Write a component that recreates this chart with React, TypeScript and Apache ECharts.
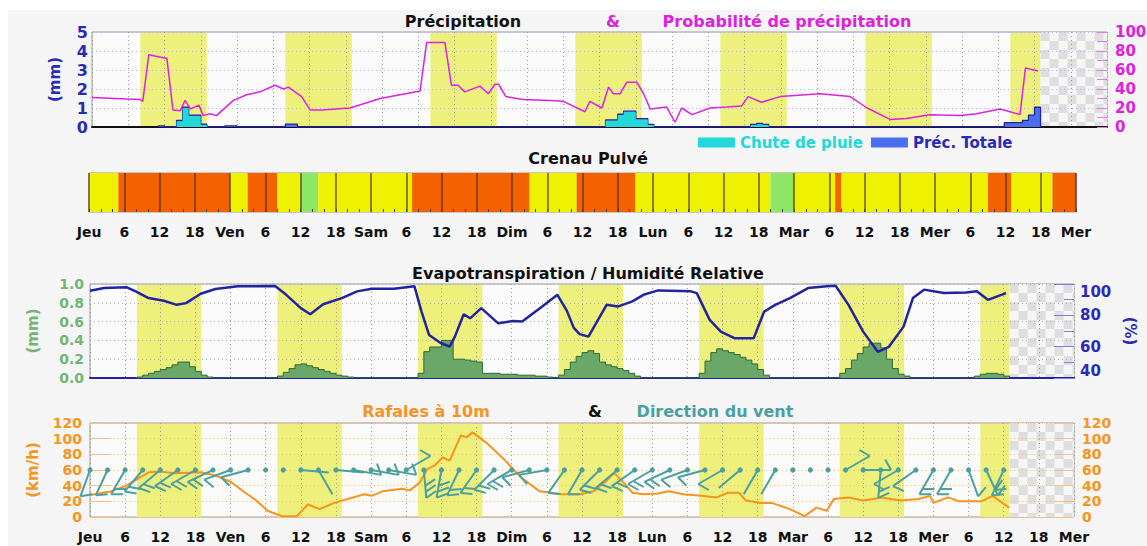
import React, { useEffect, useRef } from "react";
import * as echarts from "echarts";

// ---------- data ----------
const dayNames = ["Jeu", "Ven", "Sam", "Dim", "Lun", "Mar", "Mer", "Mer"];
const bandStart = [8, 32, 56, 80, 104, 128, 152];
const bandEnd = [19, 43, 67, 91, 115, 139, 157];
const forecastEnd = 157;
const axisEnd = 168;

// [hour, probability %]
const probPoints = [
  [0, 31], [7.9, 29], [8.4, 27], [9.4, 76], [12.4, 72], [13.4, 18], [14.6, 17], [15.4, 28], [16.3, 19],
  [17.7, 23], [18.4, 12], [19.5, 14], [20.6, 12], [23.4, 28], [25.6, 34], [27.8, 37], [30.3, 44], [31.7, 40],
  [32.5, 42], [34.7, 32], [36.1, 18], [38, 18], [42.7, 20], [47.7, 30], [51, 34], [54.3, 38], [55.4, 89],
  [58.4, 89], [59.5, 44], [60.6, 44], [61.7, 37], [64.2, 43], [65.6, 35], [66.7, 45], [67.3, 45], [68.5, 32],
  [71.4, 29], [75.8, 28], [78, 27], [81.6, 16], [82.4, 27], [84.4, 20], [85.5, 42], [86.3, 35], [87.4, 35],
  [88.5, 47], [90.2, 47], [91.3, 35], [92.4, 19], [95.1, 21], [96.5, 5], [97.6, 20], [99.3, 13], [102.3, 20],
  [105, 21], [107.5, 22], [108.6, 32], [110.8, 26], [113.9, 32], [120.5, 35], [125.5, 32], [128.3, 20],
  [132.1, 8], [134.8, 9], [138.7, 13], [143.7, 12], [146.4, 14], [150.3, 19], [153.6, 13], [154.5, 62], [156.6, 59],
];

// hourly bins: [hour, rain mm, total precipitation mm]
const precipBins = [
  [11, 0, 0.06], [14, 0.3, 0.35], [15, 1.0, 1.05], [16, 0.58, 0.63], [17, 0.58, 0.63], [18, 0.1, 0.15],
  [22, 0, 0.06], [23, 0, 0.06], [32, 0, 0.15], [33, 0, 0.15],
  [85, 0.33, 0.37], [86, 0.33, 0.37], [87, 0.63, 0.67], [88, 0.8, 0.84], [89, 0.8, 0.84], [90, 0.4, 0.44],
  [91, 0.4, 0.44], [92, 0.1, 0.14], [109, 0.1, 0.14], [110, 0.15, 0.19], [111, 0.1, 0.14],
  [151, 0, 0.23], [152, 0, 0.23], [153, 0, 0.23], [154, 0, 0.35], [155, 0, 0.63], [156, 0, 1.04],
];

// spraying window: start hour and level (0 favourable, 1 unfavourable, 2 optimal)
const crenauStart = [0, 5, 24, 27, 32, 36, 39, 55, 75, 83, 93, 116, 120, 127, 128, 153, 157, 164];
const crenauLevel = [0, 1, 0, 1, 0, 2, 0, 1, 0, 1, 0, 2, 0, 1, 0, 1, 0, 1];
const crenauColors = ["#eef200", "#f46200", "#8ee866"];

// hourly evapotranspiration [hour, mm]
const etBins = [
  [8, 0.01], [9, 0.03], [10, 0.05], [11, 0.07], [12, 0.09], [13, 0.11], [14, 0.14], [15, 0.17], [16, 0.17],
  [17, 0.12], [18, 0.07], [19, 0.03], [20, 0.01],
  [32, 0.02], [33, 0.06], [34, 0.1], [35, 0.14], [36, 0.15], [37, 0.13], [38, 0.11], [39, 0.09], [40, 0.07],
  [41, 0.05], [42, 0.03], [43, 0.02], [44, 0.01],
  [56, 0.05], [57, 0.28], [58, 0.33], [59, 0.33], [60, 0.4], [61, 0.4], [62, 0.2], [63, 0.2], [64, 0.19],
  [65, 0.18], [66, 0.17], [67, 0.05], [68, 0.05], [69, 0.05], [70, 0.04], [71, 0.04], [72, 0.04], [73, 0.03],
  [74, 0.03], [75, 0.03], [76, 0.02], [77, 0.02], [78, 0.01],
  [80, 0.03], [81, 0.09], [82, 0.17], [83, 0.23], [84, 0.27], [85, 0.29], [86, 0.26], [87, 0.17], [88, 0.14],
  [89, 0.12], [90, 0.1], [91, 0.08], [92, 0.05], [93, 0.02],
  [104, 0.05], [105, 0.18], [106, 0.27], [107, 0.31], [108, 0.29], [109, 0.27], [110, 0.25], [111, 0.22],
  [112, 0.19], [113, 0.15], [114, 0.09], [115, 0.03],
  [128, 0.05], [129, 0.1], [130, 0.19], [131, 0.26], [132, 0.33], [133, 0.37], [134, 0.37], [135, 0.32],
  [136, 0.2], [137, 0.1], [138, 0.04], [139, 0.02],
  [151, 0.02], [152, 0.04], [153, 0.05], [154, 0.05], [155, 0.04], [156, 0.02],
];

// relative humidity [hour, %]
const humPoints = [
  [0, 95.7], [2.4, 97.4], [6.2, 98], [7.8, 95.3], [10, 91], [12.6, 89.3], [14.8, 86.7], [16.4, 87.8],
  [18.9, 93.8], [21.4, 96.8], [25.2, 98.5], [31.6, 98.7], [33.5, 93.1], [36, 84.6], [37.6, 80.7], [39.8, 87.1],
  [43, 91], [45.6, 95.3], [48.1, 97], [51.9, 97], [55.4, 98.5], [56.6, 82.4], [57.9, 67.4], [59.8, 62.5],
  [61.4, 60], [62.3, 66.4], [63.8, 80.7], [64.9, 78.1], [66.8, 84.6], [69.7, 74.9], [72.2, 76.4], [73.8, 76],
  [77.6, 86.7], [79.8, 93.1], [81.4, 83], [82.6, 72], [83.6, 68], [85.1, 66.4], [88.2, 86.7], [90.1, 85.6],
  [92.6, 88.9], [94.5, 93.1], [97, 95.9], [102.6, 95.3], [103.6, 94.2], [105.8, 77.1], [107.7, 69.6],
  [110.1, 65.3], [113.3, 65.3], [115.1, 82.4], [117, 86.7], [119.5, 91], [122.6, 97.4], [125.8, 98.5],
  [127.3, 98.9], [129.5, 86.7], [132, 69.6], [134.5, 56.7], [136.4, 59.9], [138.9, 72.8], [140.5, 91],
  [142.4, 96.4], [145.8, 94.2], [149.6, 94.6], [151.4, 95.3], [153.3, 89.9], [156.4, 94.2],
];

// wind gusts at 10 m [hour, km/h]
const gustPoints = [
  [0, 28], [3.7, 33], [6.2, 40], [10, 57], [11.9, 58], [14.5, 56], [18.9, 57], [21.4, 53], [24, 45],
  [26.5, 31], [28.4, 21], [30.3, 8], [32.8, 1], [35.3, 1], [37.2, 16], [39.2, 10], [41.7, 18], [44.9, 25],
  [46.8, 29], [48.1, 27], [50, 33], [53.3, 36], [54.6, 34], [56.3, 44], [57.6, 61], [58.9, 66], [60.2, 76],
  [61.4, 72], [63.3, 104], [64.3, 102], [65.3, 108], [67.8, 94], [70.9, 72], [73.5, 51], [76.7, 33],
  [78.6, 31], [80.5, 29], [83.6, 29], [86, 33], [88, 45], [89.5, 56], [91, 45], [92.6, 31], [94.5, 29],
  [97, 30], [98.8, 33], [101.3, 29], [104.4, 27], [107, 25], [108.9, 31], [110.8, 31], [112, 21], [114.5, 18],
  [116.4, 18], [119.5, 10], [122, 1], [124, 12], [125.8, 8], [127, 23], [129.5, 25], [132, 21], [135.2, 25],
  [138.3, 21], [141.5, 23], [143.4, 27], [144, 18], [146.5, 25], [148.4, 20], [152.2, 20], [154.1, 27], [156.9, 12],
];

// wind direction every 3 h: [hour, direction (deg, -1 calm), barbs]
const windLevel = 60;
const windBarbs = [
  [0, 200, 1], [3, 205, 1], [6, 210, 2], [9, 220, 2], [12, 230, 2], [15, 235, 2], [18, 240, 2], [21, 245, 2],
  [24, 250, 1], [27, 255, 1], [30, -1, 0], [33, -1, 0], [36, 95, 0], [39, 150, 0], [42, 95, 0], [45, 100, 1],
  [48, 100, 1], [51, 100, 1], [54, 60, 1], [57, 175, 3], [60, 190, 3], [63, 205, 2], [66, 215, 2], [69, 225, 2],
  [72, 240, 2], [75, 255, 1], [78, 260, 1], [81, 215, 1], [84, 210, 1], [87, 225, 2], [90, 230, 2], [93, 235, 2],
  [96, 240, 2], [99, 245, 2], [102, 250, 1], [105, 255, 1], [108, 240, 1], [111, 230, 0], [114, 210, 0],
  [117, 210, 0], [120, -1, 0], [123, -1, 0], [126, -1, 0], [129, 60, 1], [132, 90, 1], [135, 185, 2],
  [138, 240, 1], [141, 235, 1], [144, 210, 2], [147, 210, 2], [150, 160, 1], [153, 155, 2], [156, 205, 2],
];

// ---------- helpers ----------
const FONT = "DejaVu Sans";
const C = {
  blue: "#2a2ab8",
  magenta: "#dd22dd",
  cyan: "#22d8d8",
  royal: "#4a6ef0",
  navy: "#23239f",
  green: "#6aa86a",
  greenText: "#72b672",
  darkGreen: "#2f6a2f",
  orange: "#f7941d",
  teal: "#4aa0a0",
  band: "#eef07c",
};

function toSteps(bins: number[][], col: number) {
  const out: number[][] = [];
  bins.forEach((b, i) => {
    const h = b[0];
    const prev = bins[i - 1];
    const next = bins[i + 1];
    if (!prev || prev[0] !== h - 1) out.push([h, 0]);
    out.push([h, b[col]]);
    if (!next || next[0] !== h + 1) out.push([h + 1, 0]);
  });
  return out;
}

function bandSeries(xi: number, yi: number, yMin: number, yMax: number) {
  return {
    type: "custom",
    xAxisIndex: xi,
    yAxisIndex: yi,
    z: -2,
    silent: true,
    encode: { x: [0, 1], y: [2, 3] },
    data: bandStart.map((s, i) => [s, bandEnd[i], yMin, yMax]),
    renderItem: (_p: any, api: any) => {
      const a = api.coord([api.value(0), api.value(3)]);
      const b = api.coord([api.value(1), api.value(2)]);
      return {
        type: "rect",
        shape: { x: a[0], y: a[1] + 1, width: b[0] - a[0], height: b[1] - a[1] - 1 },
        style: { fill: C.band },
      };
    },
  };
}

function checkerSeries(xi: number, yi: number, yMin: number, yMax: number) {
  return {
    type: "custom",
    xAxisIndex: xi,
    yAxisIndex: yi,
    z: -2,
    silent: true,
    encode: { x: [0, 1], y: [2, 3] },
    data: [[forecastEnd, axisEnd, yMin, yMax]],
    renderItem: (_p: any, api: any) => {
      const a = api.coord([api.value(0), api.value(3)]);
      const b = api.coord([api.value(1), api.value(2)]);
      const size = 9;
      const children: any[] = [
        { type: "rect", shape: { x: a[0], y: a[1], width: b[0] - a[0], height: b[1] - a[1] }, style: { fill: "#f6f6f6" } },
      ];
      let row = 0;
      for (let y = a[1]; y < b[1] - 0.5; y += size, row++) {
        let col = 0;
        for (let x = a[0]; x < b[0] - 0.5; x += size, col++) {
          if ((row + col) % 2 === 0) {
            children.push({
              type: "rect",
              shape: { x, y, width: Math.min(size, b[0] - x), height: Math.min(size, b[1] - y) },
              style: { fill: "#dedede" },
            });
          }
        }
      }
      return { type: "group", children };
    },
  };
}

const xLabel = (v: number) => (v % 24 === 0 ? dayNames[v / 24] : String(v % 24));

function xAxisBase(gridIndex: number, extra: any) {
  return {
    type: "value",
    gridIndex,
    min: 0,
    max: axisEnd,
    interval: 6,
    axisLine: { show: false },
    axisTick: { show: false },
    axisLabel: { show: false },
    splitLine: { show: false },
    ...extra,
  };
}

const dotted = (color: string) => ({ show: true, lineStyle: { color, type: [1, 3], width: 1 } });
const labelFont = (color: string, size: number, extra: any = {}) => ({
  color,
  fontWeight: "bold",
  fontSize: size,
  fontFamily: FONT,
  ...extra,
});
const yLabel = (color: string, size: number, margin: number, clamp: boolean, extra: any = {}) =>
  labelFont(color, size, {
    margin,
    showMinLabel: true,
    showMaxLabel: true,
    hideOverlap: false,
    ...(clamp ? { verticalAlignMinLabel: "bottom", verticalAlignMaxLabel: "top" } : {}),
    ...extra,
  });

export default function App() {
  const ref = useRef<HTMLDivElement>(null);

  useEffect(() => {
    if (!ref.current) return;
    const chart = echarts.init(ref.current, null, { renderer: "svg", width: 1147, height: 546 });

    const timeLabels = {
      show: true,
      formatter: xLabel,
      showMinLabel: true,
      showMaxLabel: true,
      margin: 13,
      ...labelFont("#111", 14),
    };

    const gridStyle = { show: true, borderColor: "#9a9a9a", borderWidth: 1, backgroundColor: "#fbfbfb", z: -3, containLabel: false, outerBoundsMode: "none" };
    const title = (text: string, x: number, y: number, fill: string) => ({
      type: "text",
      x,
      y,
      style: { text, fill, font: `bold 16px "${FONT}"`, textAlign: "center", textVerticalAlign: "middle" },
    });

    const option: any = {
      animation: false,
      backgroundColor: "#ffffff",
      textStyle: { fontFamily: FONT },
      graphic: {
        elements: [
          { type: "rect", silent: true, z: -10, shape: { x: 8, y: 10, width: 1139, height: 536 }, style: { fill: "#f5f5f5" } },
          title("Précipitation", 463, 21, "#111"),
          title("&", 613, 21, C.magenta),
          title("Probabilité de précipitation", 787, 21, C.magenta),
          title("Crenau Pulvé", 588, 158, "#111"),
          title("Evapotranspiration / Humidité Relative", 588, 273, "#111"),
          title("Rafales à 10m", 426, 411, C.orange),
          title("&", 595, 411, "#111"),
          title("Direction du vent", 715, 411, C.teal),
        ],
      },
      legend: {
        left: 693,
        top: 130,
        icon: "rect",
        itemWidth: 37,
        itemHeight: 10,
        itemGap: 8,
        selectedMode: false,
        textStyle: labelFont(C.blue, 15),
        data: [
          { name: "Chute de pluie", textStyle: { color: C.cyan } },
          { name: "Préc. Totale", textStyle: { color: C.blue } },
        ],
      },
      grid: [
        { left: 92, top: 32, width: 1015, height: 95, ...gridStyle },
        { left: 89, top: 173, width: 987, height: 39, ...gridStyle },
        { left: 90, top: 284, width: 984, height: 94, ...gridStyle },
        { left: 90, top: 423, width: 984, height: 94, ...gridStyle },
      ],
      xAxis: [
        xAxisBase(0, {
          splitLine: dotted("#9a9a9a"),
          axisLine: { show: true, onZero: false, lineStyle: { color: "#111", width: 2 } },
        }),
        xAxisBase(1, {
          axisLabel: timeLabels,
          splitLine: { show: true, lineStyle: { color: "rgba(70,40,0,0.75)", width: 1.5 } },
          axisTick: { show: true, inside: true, length: 3, lineStyle: { color: "#444" } },
          minorTick: { show: true, splitNumber: 3, length: 3, lineStyle: { color: "#444" } },
        }),
        xAxisBase(2, {
          splitLine: dotted("#9a9a9a"),
          axisLine: { show: true, onZero: false, lineStyle: { color: C.navy, width: 2 } },
        }),
        xAxisBase(3, {
          axisLabel: timeLabels,
          splitLine: dotted("#9a9a9a"),
        }),
      ],
      yAxis: [
        {
          type: "value", gridIndex: 0, position: "left", min: 0, max: 5, interval: 1,
          axisLine: { show: false }, axisTick: { show: false },
          axisLabel: yLabel(C.blue, 16, 4, false),
          splitLine: dotted("#b4b4ee"),
          name: "(mm)", nameLocation: "middle", nameGap: 30,
          nameTextStyle: labelFont(C.blue, 15),
        },
        {
          type: "value", gridIndex: 0, position: "right", min: 0, max: 100, interval: 20,
          axisLine: { show: false },
          axisTick: { show: true, inside: true, length: 10, lineStyle: { color: "#e27ae2" } },
          minorTick: { show: true, splitNumber: 2, length: 10, lineStyle: { color: "#e27ae2" } },
          axisLabel: yLabel(C.magenta, 15, 8, false),
          splitLine: { show: false },
        },
        { type: "value", gridIndex: 1, min: 0, max: 1, show: false },
        {
          type: "value", gridIndex: 2, position: "left", min: 0, max: 1, interval: 0.2,
          axisLine: { show: false }, axisTick: { show: false },
          axisLabel: yLabel(C.greenText, 14, 6, false, { formatter: (v: number) => v.toFixed(1) }),
          splitLine: dotted("#b0b0b0"),
          name: "(mm)", nameLocation: "middle", nameGap: 50,
          nameTextStyle: labelFont(C.greenText, 15),
        },
        {
          type: "value", gridIndex: 2, position: "right", min: 40, max: 100, interval: 20,
          axisLine: { show: false },
          axisTick: { show: true, inside: true, length: 20, lineStyle: { color: "#8080d8" } },
          minorTick: { show: true, splitNumber: 2, length: 10, lineStyle: { color: "#8080d8" } },
          axisLabel: yLabel(C.blue, 15, 6, true),
          splitLine: { show: false },
          name: "(%)", nameLocation: "middle", nameGap: 46, nameRotate: -90,
          nameTextStyle: labelFont(C.blue, 15),
        },
        {
          type: "value", gridIndex: 3, position: "left", min: 0, max: 120, interval: 20,
          axisLine: { show: false },
          axisTick: { show: true, inside: true, length: 20, lineStyle: { color: "#f8c080" } },
          axisLabel: yLabel(C.orange, 14, 8, false),
          splitLine: dotted("#f5b870"),
          name: "(km/h)", nameLocation: "middle", nameGap: 50,
          nameTextStyle: labelFont(C.orange, 15),
        },
        {
          type: "value", gridIndex: 3, position: "right", min: 0, max: 120, interval: 20,
          axisLine: { show: false },
          axisTick: { show: true, inside: true, length: 20, lineStyle: { color: "#f8c080" } },
          axisLabel: yLabel(C.orange, 14, 8, false),
          splitLine: { show: false },
        },
      ],
      series: [
        // precipitation panel
        bandSeries(0, 0, 0, 5),
        checkerSeries(0, 0, 0, 5),
        {
          name: "Préc. Totale", type: "line", xAxisIndex: 0, yAxisIndex: 0, step: "end", symbol: "none", z: 3,
          data: toSteps(precipBins, 2),
          itemStyle: { color: C.royal },
          lineStyle: { color: C.navy, width: 1.3 },
          areaStyle: { color: C.royal, opacity: 1 },
        },
        {
          name: "Chute de pluie", type: "line", xAxisIndex: 0, yAxisIndex: 0, step: "end", symbol: "none", z: 4,
          data: toSteps(precipBins, 1),
          itemStyle: { color: C.cyan },
          lineStyle: { opacity: 0 },
          areaStyle: { color: C.cyan, opacity: 1 },
        },
        {
          name: "Probabilité", type: "line", xAxisIndex: 0, yAxisIndex: 1, symbol: "none", z: 5,
          data: probPoints,
          lineStyle: { color: C.magenta, width: 1.5 },
          itemStyle: { color: C.magenta },
        },
        // spraying window
        {
          type: "custom", xAxisIndex: 1, yAxisIndex: 2, z: -1, silent: true,
          encode: { x: [0, 1] },
          data: crenauStart.map((s, i) => [s, i + 1 < crenauStart.length ? crenauStart[i + 1] : axisEnd, crenauLevel[i]]),
          renderItem: (_p: any, api: any) => {
            const a = api.coord([api.value(0), 1]);
            const b = api.coord([api.value(1), 0]);
            return {
              type: "rect",
              shape: { x: a[0], y: a[1], width: b[0] - a[0], height: b[1] - a[1] },
              style: { fill: crenauColors[api.value(2)] },
            };
          },
        },
        // evapotranspiration panel
        bandSeries(2, 3, 0, 1),
        checkerSeries(2, 3, 0, 1),
        {
          name: "ET", type: "line", xAxisIndex: 2, yAxisIndex: 3, step: "end", symbol: "none", z: 3,
          data: toSteps(etBins, 1),
          lineStyle: { color: C.darkGreen, width: 1 },
          areaStyle: { color: C.green, opacity: 1 },
        },
        {
          name: "Humidité", type: "line", xAxisIndex: 2, yAxisIndex: 4, symbol: "none", z: 4,
          data: humPoints,
          lineStyle: { color: C.navy, width: 2.5 },
        },
        // wind panel
        bandSeries(3, 5, 0, 120),
        checkerSeries(3, 5, 0, 120),
        {
          name: "Rafales", type: "line", xAxisIndex: 3, yAxisIndex: 5, symbol: "none", z: 3,
          data: gustPoints,
          lineStyle: { color: C.orange, width: 2 },
        },
        {
          name: "Direction", type: "custom", xAxisIndex: 3, yAxisIndex: 5, z: 4, silent: true,
          encode: { x: 0, y: 2 },
          data: windBarbs,
          renderItem: (_p: any, api: any) => {
            const t = api.value(0);
            const dir = api.value(1);
            const n = api.value(2);
            const c = api.coord([t, windLevel]);
            const children: any[] = [
              { type: "circle", shape: { cx: c[0], cy: c[1], r: 2.6 }, style: { fill: C.teal } },
            ];
            if (dir >= 0) {
              const ang = (dir * Math.PI) / 180;
              const dx = Math.sin(ang);
              const dy = -Math.cos(ang);
              const L = 28;
              const ex = c[0] + dx * L;
              const ey = c[1] + dy * L;
              children.push({ type: "line", shape: { x1: c[0], y1: c[1], x2: ex, y2: ey }, style: { stroke: C.teal, lineWidth: 2 } });
              const fa = Math.atan2(dy, dx) - (2 * Math.PI) / 3;
              for (let k = 0; k < n; k++) {
                const bx = ex - dx * k * 6;
                const by = ey - dy * k * 6;
                children.push({
                  type: "line",
                  shape: { x1: bx, y1: by, x2: bx + Math.cos(fa) * 12, y2: by + Math.sin(fa) * 12 },
                  style: { stroke: C.teal, lineWidth: 2 },
                });
              }
            }
            return { type: "group", children };
          },
        },
      ],
    };

    chart.setOption(option);
    return () => chart.dispose();
  }, []);

  return (
    <div style={{ position: "absolute", left: 0, top: 0, width: 1147, height: 546, background: "#fff" }}>
      <div ref={ref} style={{ width: 1147, height: 546 }} />
    </div>
  );
}
